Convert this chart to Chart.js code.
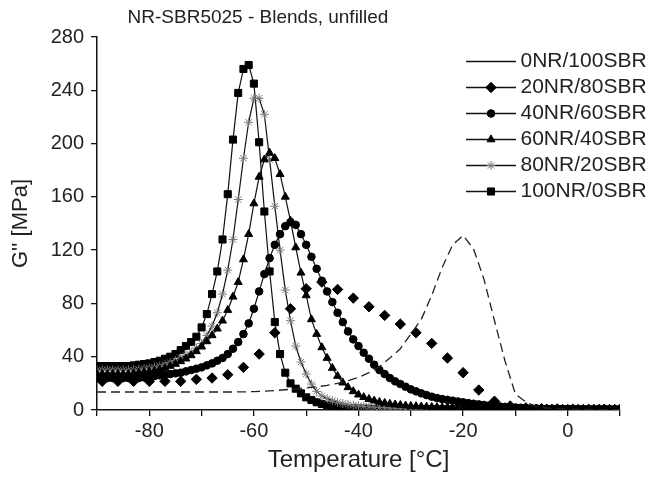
<!DOCTYPE html>
<html>
<head>
<meta charset="utf-8">
<script src="https://cdn.jsdelivr.net/npm/chart.js@4.4.0/dist/chart.umd.min.js"></script>
<style>
html,body{margin:0;padding:0;background:#fff;}
#wrap{width:652px;height:482px;}
</style>
</head>
<body>
<div id="wrap"><canvas id="c" width="652" height="482"></canvas></div>
<script>
// ---------- data ----------
const seriesLabels = ['0NR/100SBR','20NR/80SBR','40NR/60SBR','60NR/40SBR','80NR/20SBR','100NR/0SBR'];

// temperature grid (1 °C) used by 40, 60, 80, 100 NR series
const tempFine = [
 -90,-89,-88,-87,-86,-85,-84,-83,-82,-81,
 -80,-79,-78,-77,-76,-75,-74,-73,-72,-71,
 -70,-69,-68,-67,-66,-65,-64,-63,-62,-61,
 -60,-59,-58,-57,-56,-55,-54,-53,-52,-51,
 -50,-49,-48,-47,-46,-45,-44,-43,-42,-41,
 -40,-39,-38,-37,-36,-35,-34,-33,-32,-31,
 -30,-29,-28,-27,-26,-25,-24,-23,-22,-21,
 -20,-19,-18,-17,-16,-15,-14,-13,-12,-11,
 -10,-9,-8,-7,-6,-5,-4,-3,-2,-1,
 0,1,2,3,4,5,6,7,8,9,10];

// temperature grid of the 20NR/80SBR series
const tempDiamond = [-89,-86,-83,-80,-77,-74,-71,-68,-65,-62,-59,-56,-53,-50,-47,-44,-41,-38,-35,-32,-29,-26,-23,-20,-17,-14,-11,-8,-5,-2,1,4,7,10];

// temperature grid of the 0NR/100SBR series
const tempSBR = [-90,-88,-86,-84,-82,-80,-78,-76,-74,-72,-70,-68,-66,-64,-62,-60,-58,-56,-54,-52,-50,-48,-46,-44,-42,-40,-38,-36,-34,-32,-30,-28,-26,-24,-22,-20,-18,-16,-14,-12,-10,-8,-6,-4,-2,0,2,4,6,8,10];

// G'' values [MPa]
const g0NR = [13.5,13.5,13.5,13.5,13.5,13.5,13.5,13.5,13.5,13.5,13.5,13.5,13.5,13.5,
 13.6,13.8,14.1,14.6,15.2,15.9,16.6,17.4,18.5,20,
 22,24.5,28,32.5,39,46,57,68,86,107,
 124,131,121,98,67,37,12,6,2.5,1.5,
 1,0.7,0.5,0.4,0.3,0.3,0.3];

const g20NR = [21.5,21.5,21.5,21.5,21.5,21.5,23,24,26.5,32,42,58,76,91,96,90.5,84,77.5,71,64.5,58,50,39,28,15,6.6,3,1.6,1,0.8,0.6,0.5,0.5,0.4];

const g40NR = [
 24,24,24,24,24,24,24,24,24,24.5,
 25,25.5,26,26.5,27,27.5,28,29,30,31,
 32,33.5,35,37,39,42,46,51,57,65,
 76,89,102,114,124,132,138,141,139,132,
 124,115,106,97,89,81,73,66,59,53,
 48,43,38.5,34,30,27,24,21.5,19.5,17.5,
 15.5,14,12.5,11.2,10,9,8.2,7.6,7,6.4,
 5.8,5.2,4.7,4.2,3.8,3.4,3,2.7,2.4,2.1,
 1.9,1.7,1.5,1.3,1.2,1.1,1,0.9,0.9,0.8,
 0.8,0.7,0.7,0.7,0.6,0.6,0.6,0.6,0.5,0.5,0.5];

const g60NR = [
 27,27,27,27,27,27,27,27.5,28,28.5,
 29,29.5,30.5,31.5,33,34.5,36.5,38.5,41,44,
 47.5,51.5,56,61,67,75,85,96,113,132,
 155,175,188,193,189,177,160,142,122,103,
 86,68,57,47,39,31.5,25.5,20.5,17,14,
 11.5,9.6,8.2,7,6,5.2,4.6,4.1,3.7,3.3,
 3.0,2.8,2.6,2.4,2.2,2.1,2.0,1.9,1.8,1.7,
 1.6,1.6,1.5,1.5,1.4,1.4,1.3,1.3,1.2,1.2,
 1.2,1.1,1.1,1.1,1.0,1.0,1.0,1.0,0.9,0.9,
 0.9,0.9,0.9,0.9,0.9,0.9,0.9,0.9,0.9,0.9,0.9];

const g80NR = [
 30,30,30,30,30,30,30,30,30.5,31,
 31.5,32,33,34,35.5,37,39,41,43.5,46.5,
 50,56,63,73,87,105,128,158,189,216,
 234,234,222,188,153,120,90,67,48,36,
 27,19.5,14,10.5,8.5,7,5.8,4.9,4.2,3.6,
 3.1,2.7,2.4,2.1,1.9,1.7,1.5,1.4,1.3,1.2,
 1.1,1.0,0.9,0.9,0.9,0.8,0.8,0.8,0.8,0.7,
 0.7,0.7,0.7,0.7,0.7,0.7,0.7,0.7,0.7,0.7,
 0.6,0.6,0.6,0.6,0.6,0.6,0.6,0.6,0.6,0.6,
 0.6,0.5,0.5,0.5,0.5,0.5,0.5,0.5,0.5,0.5,0.5];

const g100NR = [
 33,33,33,33,33,33,33,33.5,34,34.5,
 35,36,37,38.5,40,42,45,48,51,55,
 62,72,87,104,128,162,203,238,256,259,
 245,201,149,104,66,42,28,20,16,12.5,
 9.5,7.5,5.8,4.5,3.5,2.8,2.2,1.8,1.5,1.3,
 1.1,1.0,0.9,0.8,0.8,0.7,0.7,0.6,0.6,0.6,
 0.5,0.5,0.5,0.5,0.5,0.5,0.5,0.5,0.5,0.5,
 0.5,0.4,0.4,0.4,0.4,0.4,0.4,0.4,0.4,0.4,
 0.4,0.4,0.4,0.4,0.4,0.4,0.4,0.4,0.4,0.4,
 0.4,0.3,0.3,0.3,0.3,0.3,0.3,0.3,0.3,0.3,0.3];

const yTicks = [0,40,80,120,160,200,240,280];
const xLabelTicks = [-80,-60,-40,-20,0];

// ---------- helpers ----------
const pts = (xs, ys) => xs.map((x, i) => ({x: x, y: ys[i]}));
const FONT = "'Liberation Sans', Arial, Helvetica, sans-serif";
const TXT = '#222';
const LEG_BOX = 44;
const LEG_FONT = 21;

const legendSymbols = {
  id: 'legendSymbols',
  afterLayout(chart) {
    const lg = chart.legend;
    if (lg) { lg.left = 461; lg.top = 46; lg.right = 720; lg.bottom = 300; lg.width = 259; lg.height = 254; }
    const tb = chart.titleBlock;
    if (tb) { tb.left = 0; tb.right = 516; tb.width = 516; }
  },
  afterDraw(chart) {
    const lg = chart.legend, ctx = chart.ctx;
    if (!lg || !lg.legendHitBoxes) return;
    lg.legendHitBoxes.forEach((hb, i) => {
      const ds = chart.data.datasets[i];
      const y = hb.top + hb.height / 2;
      const x0 = hb.left, x1 = hb.left + LEG_BOX + 6;
      ctx.save();
      ctx.strokeStyle = '#111';
      ctx.lineWidth = 1.6;
      ctx.setLineDash([]);
      ctx.beginPath(); ctx.moveTo(x0, y); ctx.lineTo(x1, y); ctx.stroke();
      if (ds.pointRadius > 0) {
        ctx.fillStyle = ds.pointBackgroundColor;
        ctx.strokeStyle = ds.pointBorderColor;
        ctx.lineWidth = 1;
        Chart.helpers.drawPoint(ctx, {pointStyle: ds.pointStyle, radius: ds.pointRadius, borderWidth: 1, rotation: 0}, (x0 + x1) / 2, y);
      }
      ctx.restore();
    });
  }
};

const baseDs = {
  borderColor: '#111', borderWidth: 1.2, tension: 0, fill: false,
  pointBorderWidth: 1, pointHoverRadius: 0
};

const datasets = [
  Object.assign({}, baseDs, {label: seriesLabels[0], data: pts(tempSBR, g0NR), borderDash: [9, 5], borderWidth: 1.3, pointRadius: 0, borderColor: '#222'}),
  Object.assign({}, baseDs, {label: seriesLabels[1], data: pts(tempDiamond, g20NR), showLine: false, pointStyle: 'rectRot', pointRadius: 5.2, pointBackgroundColor: '#000', pointBorderColor: '#000'}),
  Object.assign({}, baseDs, {label: seriesLabels[2], data: pts(tempFine, g40NR), pointStyle: 'circle', pointRadius: 3.8, pointBackgroundColor: '#000', pointBorderColor: '#000'}),
  Object.assign({}, baseDs, {label: seriesLabels[3], data: pts(tempFine, g60NR), pointStyle: 'triangle', pointRadius: 4.6, pointBackgroundColor: '#000', pointBorderColor: '#000'}),
  Object.assign({}, baseDs, {label: seriesLabels[4], data: pts(tempFine, g80NR), pointStyle: 'star', pointRadius: 4.5, pointBackgroundColor: '#777', pointBorderColor: '#777'}),
  Object.assign({}, baseDs, {label: seriesLabels[5], data: pts(tempFine, g100NR), pointStyle: 'rect', pointRadius: 5, pointBackgroundColor: '#000', pointBorderColor: '#000'})
];

new Chart(document.getElementById('c'), {
  type: 'line',
  data: {datasets: datasets},
  plugins: [legendSymbols],
  options: {
    responsive: false,
    animation: false,
    devicePixelRatio: 1,
    layout: {padding: {left: 0, right: 32, top: 0, bottom: 0}},
    plugins: {
      tooltip: {enabled: false},
      title: {
        display: true, text: 'NR-SBR5025 - Blends, unfilled', color: TXT,
        font: {family: FONT, size: 19, weight: 'normal'}, padding: {top: 6, bottom: 8.2}
      },
      legend: {
        display: true, position: 'chartArea', align: 'start',
        labels: {
          color: TXT, boxWidth: LEG_BOX, boxHeight: 10, padding: 5,
          font: {family: FONT, size: LEG_FONT},
          generateLabels(chart) {
            return chart.data.datasets.map((ds, i) => ({
              text: ds.label, fillStyle: 'rgba(0,0,0,0)', strokeStyle: 'rgba(0,0,0,0)',
              lineWidth: 0, hidden: false, datasetIndex: i, fontColor: TXT
            }));
          }
        }
      }
    },
    scales: {
      x: {
        type: 'linear', min: -90, max: 10,
        afterFit(s) { s.height = 72; },
        ticks: {
          stepSize: 10, color: TXT, padding: 3, maxRotation: 0, autoSkip: false,
          font: {family: FONT, size: 20},
          callback: (v) => (xLabelTicks.includes(v) ? String(v) : '')
        },
        grid: {display: true, drawOnChartArea: false, drawTicks: true, tickLength: 6, color: '#111', lineWidth: 1.3},
        border: {display: true, color: '#111', width: 1.5},
        title: {display: true, text: 'Temperature [°C]', color: TXT, font: {family: FONT, size: 24}, padding: {top: 0, bottom: 7}}
      },
      y: {
        type: 'linear', min: 0, max: 280,
        afterFit(s) { s.width = 97; },
        ticks: {
          stepSize: 40, color: TXT, padding: 7,
          font: {family: FONT, size: 20},
          callback: (v) => (yTicks.includes(v) ? String(v) : '')
        },
        grid: {display: true, drawOnChartArea: false, drawTicks: true, tickLength: 6, color: '#111', lineWidth: 1.3},
        border: {display: true, color: '#111', width: 1.5},
        title: {display: true, text: "G'' [MPa]", color: TXT, font: {family: FONT, size: 22}, padding: {top: 8, bottom: 0}}
      }
    }
  }
});
</script>
</body>
</html>
